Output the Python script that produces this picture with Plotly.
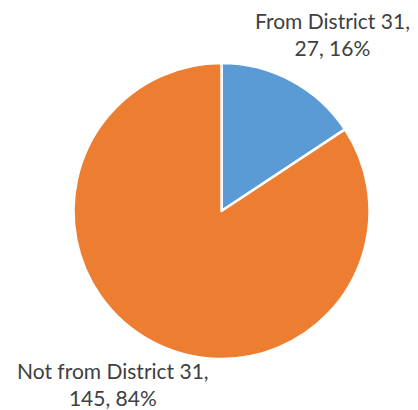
import plotly.graph_objects as go

labels = ["From District 31", "Not from District 31"]
values = [27, 145]
percents = ["16%", "84%"]
colors = ["#5B9BD5", "#ED7D31"]

fig = go.Figure(go.Pie(
    labels=labels, values=values, sort=False, direction="clockwise", rotation=0,
    marker=dict(colors=colors, line=dict(color="white", width=2.5)),
    textinfo="none", hoverinfo="label+value+percent", showlegend=False,
    domain=dict(x=[73.5/418, 369.5/418], y=[50.5/410, 347.5/410]),
))

font = dict(family="Lato, Carlito, Calibri, sans-serif", size=21, color="#404040")
fig.add_annotation(x=332/418, y=1-34/410, xref="paper", yref="paper",
                   text=f"{labels[0]},<br>{values[0]}, {percents[0]}",
                   showarrow=False, font=font, align="center", xanchor="center", yanchor="middle")
fig.add_annotation(x=113/418, y=1-384/410, xref="paper", yref="paper",
                   text=f"{labels[1]},<br>{values[1]}, {percents[1]}",
                   showarrow=False, font=font, align="center", xanchor="center", yanchor="middle")

fig.update_layout(width=418, height=410, margin=dict(l=0, r=0, t=0, b=0),
                  paper_bgcolor="white", plot_bgcolor="white")
fig.write_html("out.html")
